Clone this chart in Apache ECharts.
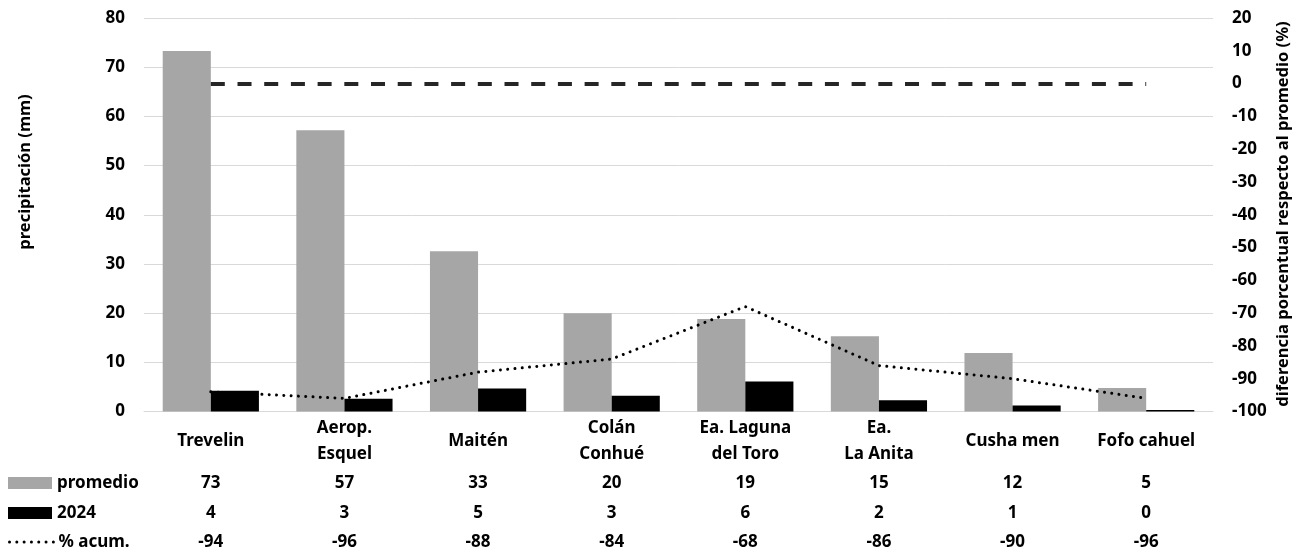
<!DOCTYPE html>
<html>
<head>
<meta charset="utf-8">
<script src="https://cdn.jsdelivr.net/npm/echarts@6/dist/echarts.min.js"></script>
<style>
  html, body { margin: 0; padding: 0; background: #fff; }
  #chart { width: 1304px; height: 553px; }
</style>
</head>
<body>
<div id="chart"></div>
<script>
// Estaciones y precipitación acumulada
const estaciones = ['Trevelin', 'Aerop.\nEsquel', 'Maitén', 'Colán\nConhué',
  'Ea. Laguna\ndel Toro', 'Ea.\nLa Anita', 'Cusha men', 'Fofo cahuel'];
const promedio = [73.3, 57.2, 32.6, 20.0, 18.8, 15.3, 11.9, 4.8];
const anio2024 = [4.2, 2.6, 4.7, 3.2, 6.1, 2.3, 1.2, 0.3];
const pctAcum = [-94, -96, -88, -84, -68, -86, -90, -96];
const referencia = 0;

const FONT = 'Noto Sans';
const txt = { fontFamily: FONT, fontWeight: 'bold', fontSize: 17, color: '#000' };
const punteado = { color: '#000', width: 3, type: [0.01, 7.3], cap: 'round' };

const chart = echarts.init(document.getElementById('chart'), null, { renderer: 'canvas' });

// Filas de la tabla bajo el eje: mismo eje de categorías, valores redondeados
function tablaEje(valores, offset) {
  return {
    type: 'category', data: estaciones, position: 'bottom', offset: offset,
    gridIndex: 0,
    axisLine: { show: false }, axisTick: { show: false }, splitLine: { show: false },
    axisLabel: Object.assign({}, txt, {
      interval: 0, margin: 29.5, verticalAlign: 'middle',
      formatter: (v, i) => String(Math.round(valores[i]))
    })
  };
}

// Una leyenda por fila de la tabla
function filaLeyenda(item, top) {
  return {
    orient: 'vertical', left: 8, top: top, padding: 0,
    itemWidth: 44, itemHeight: 12, itemGap: 0,
    icon: 'rect',
    data: [item],
    textStyle: Object.assign({}, txt, { lineHeight: 18 }),
    selectedMode: false
  };
}

chart.setOption({
  animation: false,
  backgroundColor: '#fff',
  grid: { left: 144, right: 91, top: 18, bottom: 141.5, containLabel: false },
  legend: [
    filaLeyenda('promedio', 474),
    filaLeyenda('2024', 504),
    Object.assign(filaLeyenda({ name: '% acum.', itemStyle: { opacity: 0 }, lineStyle: punteado }, 533),
      { icon: undefined })
  ],
  xAxis: [
    {
      type: 'category', data: estaciones,
      axisLine: { show: true, lineStyle: { color: '#d9d9d9', width: 1 } },
      axisTick: { show: false },
      axisLabel: Object.assign({}, txt, { interval: 0, margin: 29.5, verticalAlign: 'middle', lineHeight: 26 })
    },
    tablaEje(promedio, 42),
    tablaEje(anio2024, 72),
    tablaEje(pctAcum, 101.5)
  ],
  yAxis: [
    {
      type: 'value', min: 0, max: 80, interval: 10,
      axisLine: { show: false }, axisTick: { show: false },
      splitLine: { lineStyle: { color: '#d9d9d9', width: 1 } },
      axisLabel: Object.assign({}, txt, { margin: 19 })
    },
    {
      type: 'value', min: -100, max: 20, interval: 10, position: 'right',
      axisLine: { show: false }, axisTick: { show: false }, splitLine: { show: false },
      axisLabel: Object.assign({}, txt, { margin: 19, align: 'left' })
    }
  ],
  graphic: [
    {
      type: 'text', x: 25, y: 172, rotation: Math.PI / 2,
      style: { text: 'precipitación (mm)', font: 'bold 16.5px "Noto Sans"', fill: '#000',
        align: 'center', verticalAlign: 'middle' }
    },
    {
      type: 'text', x: 1283, y: 214, rotation: Math.PI / 2,
      style: { text: 'diferencia porcentual respecto al promedio (%)', font: 'bold 16.5px "Noto Sans"',
        fill: '#000', align: 'center', verticalAlign: 'middle' }
    }
  ],
  series: [
    {
      name: 'promedio', type: 'bar', data: promedio,
      barGap: '0%', barCategoryGap: '28%',
      itemStyle: { color: '#a6a6a6' }
    },
    {
      name: '2024', type: 'bar', data: anio2024,
      itemStyle: { color: '#000000' }
    },
    {
      name: '% acum.', type: 'line', yAxisIndex: 1, data: pctAcum,
      symbol: 'none', smooth: false,
      itemStyle: { color: '#000' },
      lineStyle: punteado,
      markLine: {
        silent: true, symbol: 'none', label: { show: false },
        lineStyle: { color: '#262626', width: 4, type: [14, 12.7], cap: 'butt' },
        data: [[{ xAxis: 0, yAxis: referencia }, { xAxis: estaciones.length - 1, yAxis: referencia }]]
      }
    }
  ]
});
</script>
</body>
</html>
